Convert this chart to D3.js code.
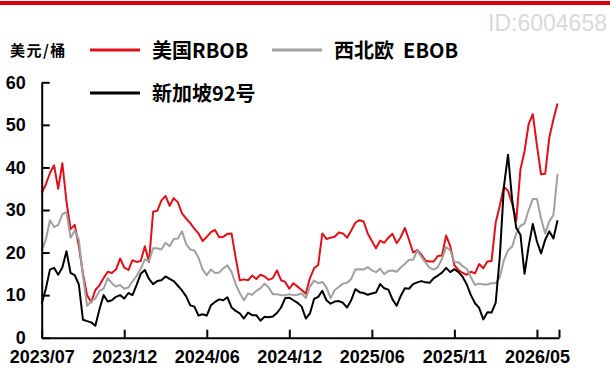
<!DOCTYPE html>
<html>
<head>
<meta charset="utf-8">
<script src="https://cdn.jsdelivr.net/npm/d3@7"></script>
<style>
  html, body { margin: 0; padding: 0; background: #fff; }
  svg { display: block; }
</style>
</head>
<body>
<svg id="chart" width="610" height="376"></svg>
<script>
// Gasoline crack spreads, USD per barrel
const xLabels = ["2023/07", "2023/12", "2024/06", "2024/12", "2025/06", "2025/11", "2026/05"];
const yTicks = [0, 10, 20, 30, 40, 50, 60];
const seriesNames = ["美国RBOB", "西北欧  EBOB", "新加坡92号"];

const rbob = [
  34.0, 36.0, 38.7, 40.5, 35.0, 41.0, 32.0, 25.5, 26.5, 21.5,
  15.0, 10.0, 8.3, 11.2, 12.3, 14.0, 15.5, 15.2, 16.0, 18.6,
  16.5, 15.9, 18.2, 17.8, 18.0, 21.5, 17.8, 29.6, 29.8, 32.2,
  33.3, 31.0, 32.8, 31.8, 29.2, 28.0, 26.9, 25.6, 24.5, 22.7,
  23.7, 24.8, 25.3, 23.6, 23.7, 24.4, 24.5, 18.8, 13.5, 13.7,
  13.5, 14.6, 13.8, 14.8, 14.4, 13.6, 14.0, 15.8, 13.5, 13.1,
  11.5, 12.8, 12.0, 11.2, 10.3, 14.0, 16.3, 17.1, 24.5, 23.2,
  23.5, 23.7, 24.7, 24.5, 23.5, 25.2, 27.0, 27.6, 27.3, 24.5,
  22.7, 21.0, 22.8, 22.3, 23.5, 24.4, 22.2, 23.6, 25.8, 23.0,
  20.0, 20.6, 19.5, 18.1, 17.9, 17.9, 19.2, 19.3, 24.0, 21.5,
  17.0, 15.9, 15.2, 14.8, 15.5, 15.1, 17.3, 16.3, 17.9, 18.0,
  27.0, 31.0, 35.5, 34.5, 31.5, 27.5, 39.5, 43.8, 50.2, 52.5,
  45.2, 38.4, 38.5, 47.0, 51.3, 55.0
];

const ebob = [
  20.5, 23.0, 27.6, 26.0, 26.5, 29.0, 29.5, 23.5, 25.2, 23.0,
  14.5, 7.5, 8.6, 9.2, 11.0, 11.5, 14.0, 12.8, 12.0, 12.4,
  11.5, 11.8, 13.2, 14.5, 16.2, 18.4, 18.0, 21.0, 21.0, 20.7,
  22.3, 21.5, 23.2, 23.3, 25.0, 22.0, 20.7, 20.5, 18.8, 16.0,
  14.7, 16.0, 15.2, 15.3, 16.3, 17.0, 15.5, 12.6, 10.5, 8.8,
  10.4, 10.1, 11.0, 11.6, 12.7, 11.8, 10.2, 10.2, 10.0, 10.0,
  10.2, 10.0, 10.1, 10.4, 9.3, 12.0, 13.4, 12.8, 13.1, 11.8,
  9.3, 11.2, 11.9, 12.7, 12.9, 13.8, 16.0, 16.1, 16.0, 16.6,
  15.8, 15.4, 16.2, 14.9, 15.7, 15.8, 15.5, 16.5, 17.3, 18.3,
  18.3, 20.5, 19.0, 17.7, 16.4, 16.0, 16.6, 18.5, 21.3, 20.5,
  17.7, 17.7, 16.8, 16.2, 14.2, 12.4, 12.7, 12.5, 12.5, 12.8,
  12.8, 14.2, 18.2, 20.5, 21.4, 24.5, 26.3, 26.8, 30.0, 32.6,
  32.6, 28.0, 24.5, 27.4, 28.8, 38.5
];

const sg92 = [
  8.0, 11.5, 16.0, 16.4, 14.8, 16.5, 20.3, 15.2, 14.7, 12.5,
  4.2, 3.9, 3.6, 2.8, 6.7, 10.0, 8.5, 8.8, 9.6, 10.0,
  9.2, 10.5, 10.0, 12.4, 15.0, 15.9, 13.8, 12.6, 13.3, 13.5,
  14.4, 13.8, 13.3, 12.2, 11.1, 9.7, 7.6, 7.3, 5.2, 5.5,
  5.2, 7.6, 8.4, 9.0, 8.8, 9.5, 7.1, 6.3, 5.7, 4.5,
  5.9, 5.3, 5.3, 4.0, 4.9, 4.8, 5.0, 5.8, 7.1, 9.3,
  9.4, 8.8, 8.2, 7.3, 4.5, 5.7, 9.1, 9.6, 11.0, 8.8,
  8.0, 8.5, 8.6, 8.2, 7.1, 8.8, 11.4, 10.7, 10.5, 10.1,
  10.4, 10.6, 12.6, 11.6, 11.3, 9.0, 7.5, 9.8, 11.6, 11.5,
  12.6, 13.0, 13.3, 13.0, 12.9, 14.0, 14.6, 15.3, 16.4, 15.4,
  16.1, 15.4, 14.3, 12.5, 10.0, 8.1, 7.0, 4.3, 6.0, 5.9,
  8.2, 19.0, 35.5, 43.0, 32.3, 25.8, 24.2, 15.0, 21.5, 26.7,
  22.6, 19.8, 23.0, 25.0, 23.3, 27.6
];

const seriesValues = [rbob, ebob, sg92];
const seriesColors = ["#e01019", "#a0a0a0", "#000000"];
const labelStep = 20;

const svg = d3.select("#chart");
const n = rbob.length;

const x = d3.scaleLinear().domain([0, n - 0.65]).range([41.7, 559]);
const y = d3.scaleLinear().domain([0, 60]).range([337.7, 82.3]);

const axisFont = "'Liberation Sans Narrow', 'Liberation Sans', Arial, sans-serif";
const cjkFont = "'Noto Sans CJK SC', 'Noto Sans', sans-serif";

// top accent bar
svg.append("rect").attr("x", 0).attr("y", 1).attr("width", 610).attr("height", 4).attr("fill", "#d7000f");

// watermark id
svg.append("text")
  .attr("x", 607).attr("y", 31)
  .attr("text-anchor", "end")
  .attr("font-family", "'Liberation Sans', Arial, sans-serif")
  .attr("font-size", 23)
  .attr("fill", "#d9d9d9")
  .text("ID:6004658");

// unit label
svg.append("text")
  .attr("x", 10).attr("y", 56)
  .attr("font-family", cjkFont)
  .attr("font-weight", 700)
  .attr("font-size", 15)
  .attr("letter-spacing", 1.5)
  .attr("fill", "#000")
  .text("美元/桶");

// legend
const legendItems = [
  { x: 90, y: 50 }, { x: 272, y: 50 }, { x: 90, y: 93 }
];
legendItems.forEach((p, i) => {
  svg.append("line")
    .attr("x1", p.x).attr("x2", p.x + 50)
    .attr("y1", p.y).attr("y2", p.y)
    .attr("stroke", seriesColors[i]).attr("stroke-width", 3);
  svg.append("text")
    .attr("x", p.x + 62).attr("y", p.y + 8)
    .attr("font-family", cjkFont)
    .attr("font-weight", 700)
    .attr("font-size", 20)
    .attr("fill", "#000")
    .attr("xml:space", "preserve")
    .style("white-space", "pre")
    .text(seriesNames[i]);
});

// series lines
const line = d3.line()
  .x((d, i) => x(i))
  .y(d => y(d));

seriesValues.forEach((vals, i) => {
  svg.append("path")
    .datum(vals)
    .attr("fill", "none")
    .attr("stroke", seriesColors[i])
    .attr("stroke-width", 2)
    .attr("stroke-linejoin", "round")
    .attr("d", line);
});

// y axis
const yAxis = d3.axisLeft(y)
  .tickValues(yTicks)
  .tickSizeInner(-8)
  .tickSizeOuter(0)
  .tickPadding(16)
  .tickFormat(d3.format("d"));
const gy = svg.append("g").attr("transform", `translate(${x(0)},0)`).call(yAxis);

// x axis
const xTickVals = xLabels.map((_, i) => i * labelStep).concat([n - 0.65]);
const xAxis = d3.axisBottom(x)
  .tickValues(xTickVals)
  .tickSizeInner(-8)
  .tickSizeOuter(0)
  .tickPadding(13)
  .tickFormat((d, i) => xLabels[i] || "");
const gx = svg.append("g").attr("transform", `translate(0,${y(0)})`).call(xAxis);

[gx, gy].forEach(g => {
  g.select(".domain").attr("stroke", "#000").attr("stroke-width", 2);
  g.selectAll(".tick line").attr("stroke", "#000").attr("stroke-width", 2);
  g.selectAll(".tick text")
    .attr("font-family", axisFont)
    .attr("font-weight", 700)
    .attr("font-size", 18)
    .attr("fill", "#000");
});
</script>
</body>
</html>
